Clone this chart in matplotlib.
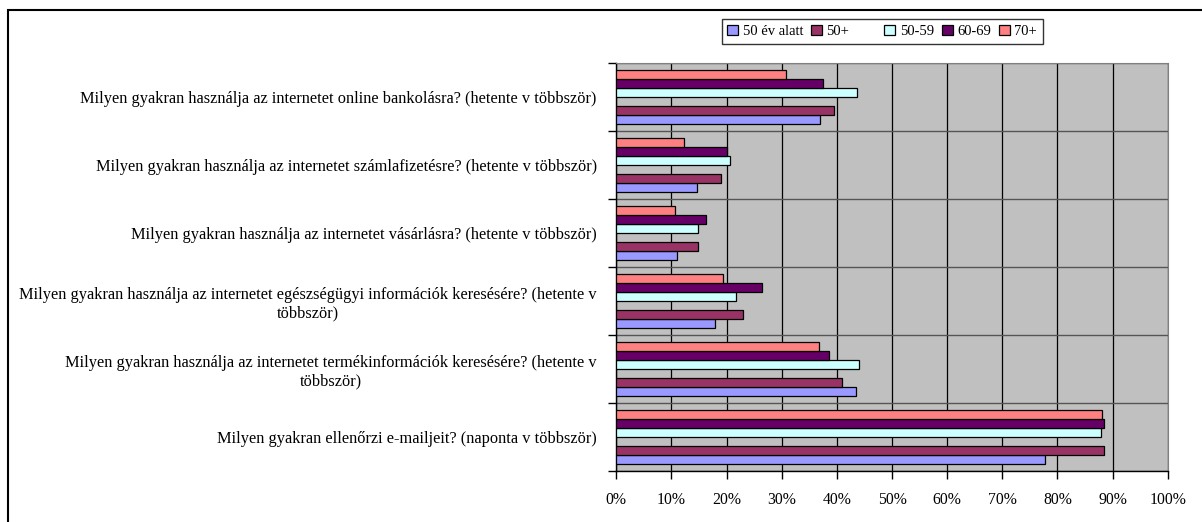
import numpy as np
import matplotlib
matplotlib.use('Agg')
import matplotlib.pyplot as plt
from matplotlib.patches import Patch, Rectangle

plt.rcParams['font.family'] = ['Liberation Serif', 'DejaVu Serif']

# categories, bottom to top (Excel order)
categories = [
    'Milyen gyakran ellenőrzi e-mailjeit? (naponta v többször)',
    'Milyen gyakran használja az internetet termékinformációk keresésére? (hetente v\ntöbbször)',
    'Milyen gyakran használja az internetet egészségügyi információk keresésére? (hetente v\ntöbbször)',
    'Milyen gyakran használja az internetet vásárlásra? (hetente v többször)',
    'Milyen gyakran használja az internetet számlafizetésre? (hetente v többször)',
    'Milyen gyakran használja az internetet online bankolásra? (hetente v többször)',
]

# values in percent, same order as categories
alatt50 = [77.8, 43.5, 17.9, 11.1, 14.6, 37.0]
plus50 = [88.4, 41.0, 22.9, 14.9, 19.0, 39.5]
age50_59 = [87.9, 44.0, 21.8, 14.9, 20.6, 43.7]
age60_69 = [88.4, 38.5, 26.5, 16.3, 20.1, 37.5]
plus70 = [88.1, 36.8, 19.3, 10.6, 12.2, 30.8]

series_names = ['50 év alatt', '50+', '', '50-59', '60-69', '70+']
series_vals = [alatt50, plus50, None, age50_59, age60_69, plus70]
colors = ['#9999FF', '#993366', 'none', '#CCFFFF', '#660066', '#FF8080']

fig = plt.figure(figsize=(12.02, 5.22), dpi=100)
ax = fig.add_axes([0.5127, 0.0977, 0.4588, 0.7813])
ax.set_facecolor('#C0C0C0')

# outer chart frame (runs off right/bottom edge)
fig.patches.append(Rectangle((8 / 1202, -0.05), 1.2, 1 - 10 / 522 + 0.05,
                             transform=fig.transFigure, fill=False,
                             edgecolor='black', linewidth=1.5))

y = np.arange(len(categories))
h = 0.8 / 6
handles = []
for k, (name, vals, c) in enumerate(zip(series_names, series_vals, colors)):
    off = (k - 2.5) * h
    if vals is not None:
        ax.barh(y + off, vals, height=h, color=c, edgecolor='black',
                linewidth=0.9, zorder=3)
        handles.append(Patch(facecolor=c, edgecolor='black', linewidth=0.9, label=name))
    else:
        handles.append(Patch(facecolor='none', edgecolor='none', label=' '))

ax.set_xlim(0, 100)
ax.set_ylim(-0.5, len(categories) - 0.5)
ax.set_xticks(np.arange(0, 101, 10))
ax.set_xticklabels([f'{v}%' for v in range(0, 101, 10)])
ax.xaxis.grid(True, color='black', linewidth=0.9, zorder=1)

ax.set_yticks(y)
ax.set_yticklabels(categories, ha='right', multialignment='center')
ax.set_yticks(np.arange(-0.5, len(categories), 1), minor=True)
ax.tick_params(axis='y', which='major', length=0, pad=14, labelsize=11.8)
ax.tick_params(axis='y', which='minor', length=6, width=1, color='black')
ax.yaxis.grid(True, which='minor', color='#555555', linewidth=1, zorder=1)
ax.tick_params(axis='x', length=6, width=1, pad=9, labelsize=11.3)
ax.set_axisbelow(True)

for s in ['top', 'right']:
    ax.spines[s].set_color('#808080')
for s in ['left', 'bottom']:
    ax.spines[s].set_color('black')
    ax.spines[s].set_linewidth(1)

leg = fig.legend(handles=handles, loc='center', bbox_to_anchor=(0.734, 0.94),
                 ncol=6, frameon=True, fancybox=False, edgecolor='black',
                 fontsize=10.5, handlelength=0.75, handleheight=0.75,
                 handletextpad=0.3, columnspacing=0.55, borderpad=0.38)
leg.get_frame().set_linewidth(1)

fig.savefig('out.png', dpi=100)
